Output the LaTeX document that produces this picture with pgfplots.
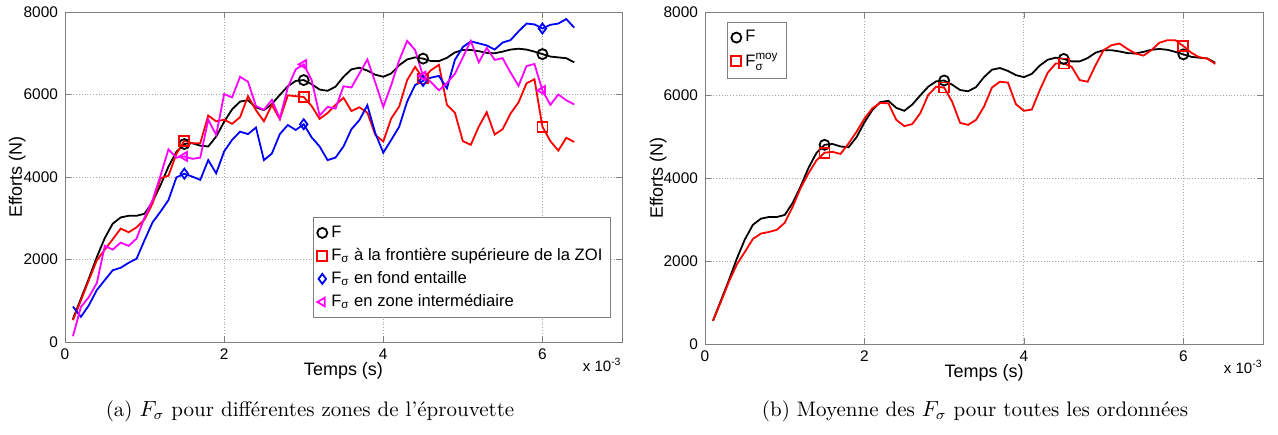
\documentclass[border=0pt]{standalone}
\usepackage{fontspec}
\usepackage{amsmath}
\usepackage{pgfplots}
\usepackage{pgfplotstable}
\pgfplotsset{compat=1.18}
\newfontfamily\arial{Liberation Sans}
\definecolor{mmag}{rgb}{1,0,1}
\definecolor{mred}{rgb}{1,0,0}
\definecolor{mblue}{rgb}{0,0,1}

% t en 1e-3 s ; efforts en N
\pgfplotstableread{
t   F     Fzoi  Ffond Finter Fmoy
0.1 560   530   860   140    560
0.2 1050  1010  610   850    1020
0.3 1540  1500  890   1090   1500
0.4 2060  1980  1260  1430   1920
0.5 2520  2240  1500  2330   2220
0.6 2870  2490  1740  2240   2530
0.7 3020  2750  1800  2410   2660
0.8 3060  2660  1920  2330   2700
0.9 3060  2780  2020  2510   2750
1.0 3110  2970  2470  3020   2920
1.1 3400  3360  2900  3440   3310
1.2 3800  3970  3160  4030   3760
1.3 4250  4030  3440  4670   4120
1.4 4610  4560  3990  4470   4430
1.5 4800  4880  4080  4500   4610
1.6 4820  4820  4010  4440   4630
1.7 4760  4820  3930  4470   4580
1.8 4740  5490  4410  5390   4830
1.9 4980  5350  4090  5020   5110
2.0 5340  5390  4620  6010   5430
2.1 5640  5290  4900  5930   5680
2.2 5830  5450  5100  6430   5810
2.3 5860  5960  5040  6310   5800
2.4 5690  5620  5200  5720   5400
2.5 5620  5350  4410  5630   5250
2.6 5770  5750  4570  5870   5300
2.7 5990  5400  5040  5420   5560
2.8 6200  5980  5260  6170   6000
2.9 6330  5960  5140  6610   6200
3.0 6350  5940  5280  6730   6180
3.1 6250  5720  4960  6350   5840
3.2 6120  5410  4740  5490   5330
3.3 6090  5550  4410  5700   5280
3.4 6190  5750  4470  5660   5400
3.5 6430  5920  4740  6200   5720
3.6 6610  5600  5160  6170   6180
3.7 6650  5690  5380  6510   6320
3.8 6580  5560  5740  6850   6300
3.9 6480  5020  5060  6290   5780
4.0 6430  4860  4590  5700   5620
4.1 6510  5420  4900  6230   5650
4.2 6710  5710  5220  6830   6120
4.3 6850  6350  5830  7300   6540
4.4 6900  6670  6230  7080   6760
4.5 6870  6390  6330  6450   6760
4.6 6810  6590  6410  6300   6680
4.7 6810  6720  6450  6100   6360
4.8 6890  5750  6150  6280   6320
4.9 7020  5560  6840  6500   6720
5.0 7080  4870  7150  6900   7080
5.1 7080  4780  7290  7300   7200
5.2 7050  5220  7240  6780   7240
5.3 7010  5570  7190  7130   7110
5.4 7000  5030  7090  6840   7000
5.5 7040  5160  7260  6880   6950
5.6 7090  5540  7320  6530   7080
5.7 7110  5810  7530  6210   7260
5.8 7090  6270  7720  6690   7320
5.9 7040  6370  7700  6740   7320
6.0 6980  5220  7600  6100   7180
6.1 6920  4870  7690  5750   7020
6.2 6900  4640  7720  6000   6910
6.3 6880  4950  7830  5860   6880
6.4 6780  4850  7620  5760   6750
}\data

\pgfplotsset{
  matlab/.style={
    scale only axis,
    xmin=0, xmax=7, ymin=0, ymax=8000,
    xtick={0,2,4,6}, ytick={0,2000,4000,6000,8000},
    grid=major,
    grid style={densely dotted, black!35, line width=0.4pt},
    axis line style={black!50},
    major tick style={black!50},
    tick align=inside,
    major tick length=3pt,
    /pgf/number format/1000 sep={},
    /pgf/number format/assume math mode=true,
    tick label style={font=\arial\fontsize{7.7}{9}\selectfont},
    label style={font=\arial\fontsize{9}{10}\selectfont},
    xlabel={Temps (s)}, ylabel={Efforts (N)},
    x label style={at={(axis description cs:0.5,-0.086)}, anchor=center},
    legend style={font=\arial\fontsize{8.3}{10}\selectfont, draw=black!50,
      cells={anchor=west}, row sep=0pt, inner sep=2pt},
    legend image code/.code={\draw[#1] plot coordinates {(0pt,0pt)};},
    every axis plot/.append style={line width=0.9pt},
    every mark/.append style={solid, line width=0.5pt},
    mark size=2.5pt,
  }
}

\begin{document}
\begin{tikzpicture}
\path[use as bounding box] (-32.5pt,-46pt) rectangle (606.5pt,171pt);

\begin{axis}[matlab, name=L, width=278.5pt, height=165pt,
  y label style={at={(axis description cs:-0.086,0.5)}, anchor=center},
  legend style={at={(0.980,0.0727)}, anchor=south east}]
\addlegendimage{black, mark=o}
\addlegendimage{mred, mark=square}
\addlegendimage{mblue, mark=diamond}
\addlegendimage{mmag, mark=triangle, mark options={rotate=90}}
\addplot[black, mark=o, mark repeat=15, mark phase=15, forget plot] table[x=t, y=F] {\data};
\addplot[mred, mark=square, mark repeat=15, mark phase=15, forget plot] table[x=t, y=Fzoi] {\data};
\addplot[mblue, mark=diamond, mark repeat=15, mark phase=15, forget plot] table[x=t, y=Ffond] {\data};
\addplot[mmag, mark=triangle, mark options={rotate=90}, mark repeat=15, mark phase=15, forget plot] table[x=t, y=Finter] {\data};
\legend{F, F\textsubscript{σ} à la frontière supérieure de la ZOI, F\textsubscript{σ} en fond entaille, F\textsubscript{σ} en zone intermédiaire}
\end{axis}

\begin{axis}[matlab, name=R, at={(320pt,-1pt)}, width=279pt, height=166pt,
  y label style={at={(axis description cs:-0.084,0.5)}, anchor=center},
  legend style={at={(0.0394,0.97)}, anchor=north west}]
\addlegendimage{black, mark=o}
\addlegendimage{mred, mark=square}
\addplot[black, mark=o, mark repeat=15, mark phase=15, forget plot] table[x=t, y=F] {\data};
\addplot[mred, mark=square, mark repeat=15, mark phase=15, forget plot] table[x=t, y=Fmoy] {\data};
\legend{F, $\text{F}^{\text{moy}}_{\text{σ}}$}
\end{axis}

\node[anchor=north east, inner sep=0pt, font=\arial\fontsize{7.5}{9}\selectfont] at ([yshift=-8pt]L.south east) {x 10\textsuperscript{-3}};
\node[anchor=north east, inner sep=0pt, font=\arial\fontsize{7.5}{9}\selectfont] at ([yshift=-8pt]R.south east) {x 10\textsuperscript{-3}};

\node[anchor=base, inner sep=0pt, font=\fontsize{10.5}{12}\selectfont] at (122.5pt,-37pt) {(a) $F_\sigma$ pour différentes zones de l’éprouvette};
\node[anchor=base, inner sep=0pt, font=\fontsize{10.5}{12}\selectfont] at (455pt,-37pt) {(b) Moyenne des $F_\sigma$ pour toutes les ordonnées};
\end{tikzpicture}
\end{document}
